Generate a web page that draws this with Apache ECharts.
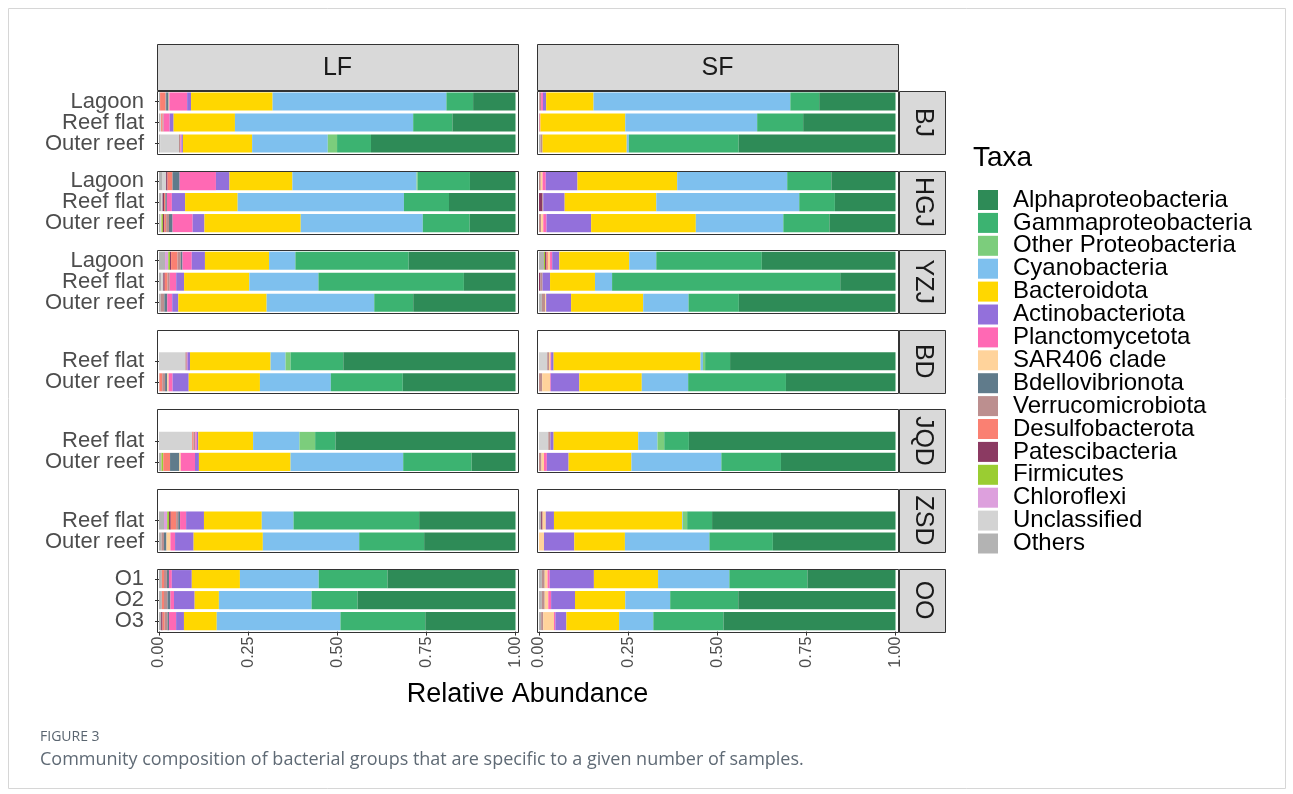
<!DOCTYPE html>
<html>
<head>
<meta charset="utf-8">
<script src="https://cdn.jsdelivr.net/npm/echarts@6/dist/echarts.min.js"></script>
<style>
  html, body { margin: 0; padding: 0; background: #ffffff; }
  #chart { width: 1293px; height: 794px; }
</style>
</head>
<body>
<div id="chart"></div>
<script>
// Taxa in legend order; the stack is drawn in reverse (Others at 0, Alphaproteobacteria at 1)
const taxa = [
  'Alphaproteobacteria', 'Gammaproteobacteria', 'Other Proteobacteria', 'Cyanobacteria',
  'Bacteroidota', 'Actinobacteriota', 'Planctomycetota', 'SAR406 clade',
  'Bdellovibrionota', 'Verrucomicrobiota', 'Desulfobacterota', 'Patescibacteria',
  'Firmicutes', 'Chloroflexi', 'Unclassified', 'Others'
];
const taxaColors = [
  '#2E8B57', '#3CB371', '#7CCD7C', '#7EC0EE',
  '#FFD700', '#9370DB', '#FF69B4', '#FFD39B',
  '#607B8B', '#BC8F8F', '#FA8072', '#8B3A62',
  '#9ACD32', '#DDA0DD', '#D3D3D3', '#B3B3B3'
];
const fractions = ['LF', 'SF'];
const sites = ['BJ', 'HGJ', 'YZJ', 'BD', 'JQD', 'ZSD', 'OO'];

// Row labels per site (blank slot keeps the three-row layout)
const labelsBJ  = ['Lagoon', 'Reef flat', 'Outer reef'];
const labelsHGJ = ['Lagoon', 'Reef flat', 'Outer reef'];
const labelsYZJ = ['Lagoon', 'Reef flat', 'Outer reef'];
const labelsBD  = ['', 'Reef flat', 'Outer reef'];
const labelsJQD = ['', 'Reef flat', 'Outer reef'];
const labelsZSD = ['', 'Reef flat', 'Outer reef'];
const labelsOO  = ['O1', 'O2', 'O3'];

// Relative abundances, one row per sample, columns in the order of `taxa`
const bjLF = [
  [0.119, 0.075, 0, 0.488, 0.229, 0.011, 0.050, 0.002, 0.007, 0.002, 0.015, 0, 0, 0, 0, 0.003],
  [0.177, 0.110, 0, 0.500, 0.172, 0.011, 0.017, 0, 0, 0.003, 0.004, 0, 0, 0, 0.003, 0.003],
  [0.405, 0.095, 0.026, 0.212, 0.194, 0.004, 0.003, 0, 0, 0.004, 0, 0, 0, 0, 0.052, 0.004]
];
const bjSF = [
  [0.214, 0.081, 0, 0.552, 0.133, 0.009, 0.005, 0, 0, 0.005, 0, 0, 0, 0, 0, 0.001],
  [0.259, 0.129, 0, 0.370, 0.238, 0, 0.002, 0, 0, 0.002, 0, 0, 0, 0, 0, 0],
  [0.440, 0.308, 0, 0.006, 0.236, 0, 0, 0, 0, 0.006, 0, 0, 0, 0, 0, 0.004]
];
const hgjLF = [
  [0.128, 0.147, 0.003, 0.349, 0.177, 0.038, 0.102, 0, 0.020, 0, 0.014, 0.004, 0, 0, 0.010, 0.010],
  [0.186, 0.126, 0, 0.465, 0.147, 0.037, 0.014, 0, 0.004, 0, 0.004, 0.004, 0, 0, 0.004, 0.006],
  [0.128, 0.131, 0, 0.341, 0.269, 0.033, 0.056, 0, 0.010, 0.008, 0.005, 0.004, 0.004, 0, 0.003, 0.004]
];
const hgjSF = [
  [0.180, 0.124, 0, 0.309, 0.280, 0.089, 0.009, 0.005, 0, 0.005, 0, 0, 0, 0, 0, 0],
  [0.170, 0.100, 0, 0.401, 0.257, 0.060, 0, 0, 0, 0.003, 0, 0.009, 0, 0, 0, 0],
  [0.185, 0.129, 0, 0.245, 0.293, 0.125, 0.009, 0.006, 0, 0.006, 0, 0, 0, 0, 0, 0]
];
const yzjLF = [
  [0.300, 0.318, 0, 0.074, 0.180, 0.037, 0.026, 0, 0.005, 0.009, 0.018, 0.003, 0.005, 0.009, 0, 0.017],
  [0.144, 0.406, 0, 0.193, 0.182, 0.022, 0.018, 0, 0, 0.006, 0.008, 0.004, 0, 0, 0.006, 0.006],
  [0.286, 0.109, 0, 0.301, 0.247, 0.017, 0.014, 0, 0.008, 0.010, 0, 0, 0, 0, 0, 0.005]
];
const yzjSF = [
  [0.375, 0.296, 0, 0.076, 0.196, 0.020, 0.006, 0.006, 0, 0, 0.004, 0.004, 0.003, 0, 0, 0.014],
  [0.155, 0.640, 0, 0.048, 0.126, 0.021, 0, 0, 0, 0.006, 0, 0.004, 0, 0, 0, 0],
  [0.439, 0.141, 0, 0.127, 0.202, 0.070, 0, 0.003, 0, 0.009, 0, 0, 0, 0, 0, 0.008]
];
const bdLF = [
  null,
  [0.483, 0.148, 0.014, 0.042, 0.226, 0.007, 0.002, 0, 0, 0.004, 0, 0, 0, 0, 0.074, 0],
  [0.315, 0.201, 0, 0.198, 0.199, 0.045, 0.011, 0.004, 0.006, 0.008, 0.008, 0, 0, 0, 0, 0.001]
];
const bdSF = [
  null,
  [0.464, 0.070, 0.006, 0.007, 0.412, 0.007, 0.002, 0.004, 0, 0.005, 0, 0, 0, 0, 0.023, 0],
  [0.307, 0.274, 0, 0.130, 0.175, 0.080, 0.002, 0.022, 0, 0.009, 0, 0, 0, 0, 0, 0]
];
const jqdLF = [
  null,
  [0.505, 0.057, 0.044, 0.130, 0.154, 0.004, 0.004, 0, 0, 0.005, 0.004, 0, 0, 0, 0.093, 0],
  [0.123, 0.192, 0, 0.316, 0.257, 0.011, 0.040, 0.004, 0.026, 0, 0.019, 0, 0.005, 0, 0, 0.007]
];
const jqdSF = [
  null,
  [0.579, 0.069, 0.019, 0.054, 0.237, 0.009, 0, 0, 0, 0.006, 0, 0, 0, 0, 0.026, 0],
  [0.321, 0.167, 0, 0.252, 0.176, 0.061, 0.008, 0.007, 0, 0.007, 0, 0, 0, 0, 0, 0]
];
const zsdLF = [
  null,
  [0.270, 0.352, 0, 0.089, 0.162, 0.050, 0.017, 0, 0.005, 0.006, 0.015, 0.005, 0.005, 0.009, 0, 0.014],
  [0.256, 0.182, 0, 0.270, 0.194, 0.052, 0.013, 0.011, 0.007, 0.007, 0, 0, 0, 0, 0, 0.007]
];
const zsdSF = [
  null,
  [0.515, 0.070, 0.012, 0.002, 0.360, 0.023, 0, 0.009, 0, 0, 0, 0.004, 0, 0, 0, 0.006],
  [0.344, 0.178, 0, 0.237, 0.142, 0.085, 0, 0.014, 0, 0, 0, 0, 0, 0, 0, 0]
];
const ooLF = [
  [0.359, 0.193, 0, 0.221, 0.135, 0.056, 0.008, 0, 0.006, 0.008, 0.006, 0, 0, 0, 0, 0.008],
  [0.443, 0.129, 0, 0.260, 0.068, 0.058, 0.010, 0, 0.008, 0.010, 0.006, 0, 0, 0, 0, 0.008],
  [0.253, 0.238, 0, 0.347, 0.092, 0.022, 0.020, 0, 0.004, 0.008, 0.006, 0.004, 0, 0, 0, 0.006]
];
const ooSF = [
  [0.247, 0.219, 0, 0.200, 0.180, 0.124, 0.006, 0.008, 0, 0.008, 0, 0, 0, 0, 0, 0.008],
  [0.441, 0.191, 0, 0.126, 0.141, 0.067, 0.008, 0.010, 0, 0.008, 0, 0, 0, 0, 0, 0.008],
  [0.483, 0.197, 0, 0.096, 0.148, 0.031, 0.004, 0.030, 0, 0.006, 0, 0, 0, 0, 0, 0.006]
];

const siteLabels = [labelsBJ, labelsHGJ, labelsYZJ, labelsBD, labelsJQD, labelsZSD, labelsOO];
const siteData = [
  [bjLF, bjSF], [hgjLF, hgjSF], [yzjLF, yzjSF], [bdLF, bdSF],
  [jqdLF, jqdSF], [zsdLF, zsdSF], [ooLF, ooSF]
];

// ---- layout ----
const FONT = "'Liberation Sans', Arial, Helvetica, sans-serif";
const CAPTION_FONT = "'Open Sans', 'Noto Sans', sans-serif";
const panelLeft = [157, 537];
const panelW = 361;
const dataPad = 2;            // small horizontal expansion inside each panel
const panelTop0 = 91;
const rowStep = 79.6;
const panelH = 63;
const stripTop = 44, stripH = 46;
const rightStripX = 899, rightStripW = 46;

const chart = echarts.init(document.getElementById('chart'), null, { renderer: 'canvas' });

const grids = [], xAxes = [], yAxes = [], series = [], graphics = [];

sites.forEach((site, r) => {
  const top = panelTop0 + r * rowStep;
  const isBottom = r === sites.length - 1;
  const labels = siteLabels[r];
  fractions.forEach((frac, c) => {
    const g = grids.length;
    grids.push({
      left: panelLeft[c] + dataPad,
      top: top,
      width: panelW - 2 * dataPad - 0.5,
      height: panelH,
      containLabel: false
    });
    xAxes.push({
      gridIndex: g, type: 'value', min: 0, max: 1, interval: 0.25,
      splitLine: { show: false },
      axisLine: { show: false },
      axisTick: { show: isBottom, length: 4, lineStyle: { color: '#333333', width: 1 } },
      axisLabel: {
        show: isBottom, rotate: 90, margin: 5,
        fontFamily: FONT, fontSize: 16, color: '#4d4d4d',
        formatter: v => v.toFixed(2)
      }
    });
    yAxes.push({
      gridIndex: g, type: 'category', inverse: true,
      data: labels,
      offset: dataPad,
      axisLine: { show: false },
      axisTick: {
        show: c === 0, length: 4, alignWithLabel: true,
        interval: (idx) => labels[idx] !== '',
        lineStyle: { color: '#333333', width: 1 }
      },
      axisLabel: {
        show: c === 0, margin: 13, interval: 0,
        fontFamily: FONT, fontSize: 22, color: '#4d4d4d'
      },
      splitLine: { show: false }
    });
    const rows = siteData[r][c];
    // position = fill: each sample's bar spans 0..1
    const totals = rows.map(row => row ? row.reduce((a, b) => a + b, 0) : 0);
    for (let k = taxa.length - 1; k >= 0; k--) {
      series.push({
        type: 'bar',
        name: taxa[k],
        xAxisIndex: g, yAxisIndex: g,
        stack: 'panel' + g,
        barWidth: '86%',
        itemStyle: { color: taxaColors[k], borderWidth: 0 },
        emphasis: { disabled: true },
        data: rows.map((row, i) => row ? row[k] / totals[i] : null)
      });
    }
    // panel frame
    graphics.push({
      type: 'rect', z: 100,
      shape: { x: panelLeft[c] + 0.5, y: Math.round(top) + 0.5, width: panelW, height: panelH },
      style: { fill: null, stroke: '#333333', lineWidth: 1 }
    });
  });
  // right strip with site name
  graphics.push({
    type: 'rect', z: 100,
    shape: { x: rightStripX + 0.5, y: Math.round(top) + 0.5, width: rightStripW, height: panelH },
    style: { fill: '#d9d9d9', stroke: '#333333', lineWidth: 1 }
  });
  graphics.push({
    type: 'text', z: 101,
    x: rightStripX + rightStripW / 2 + 0.5, y: top + panelH / 2,
    rotation: -Math.PI / 2,
    style: {
      text: site, fontFamily: FONT, fontSize: 25, fill: '#1a1a1a',
      align: 'center', verticalAlign: 'middle'
    }
  });
});

// top strips
fractions.forEach((frac, c) => {
  graphics.push({
    type: 'rect', z: 100,
    shape: { x: panelLeft[c] + 0.5, y: stripTop + 0.5, width: panelW, height: stripH },
    style: { fill: '#d9d9d9', stroke: '#333333', lineWidth: 1 }
  });
  graphics.push({
    type: 'text', z: 101,
    x: panelLeft[c] + panelW / 2, y: stripTop + stripH / 2 + 1,
    style: {
      text: frac, fontFamily: FONT, fontSize: 25, fill: '#1a1a1a',
      align: 'center', verticalAlign: 'middle'
    }
  });
});

// axis title
graphics.push({
  type: 'text', z: 101,
  x: (panelLeft[0] + panelLeft[1] + panelW) / 2, y: 695,
  style: {
    text: 'Relative Abundance', fontFamily: FONT, fontSize: 27, fill: '#000000',
    align: 'center', verticalAlign: 'middle'
  }
});

// legend title
graphics.push({
  type: 'text', z: 101, x: 973, y: 158,
  style: {
    text: 'Taxa', fontFamily: FONT, fontSize: 28, fill: '#000000',
    align: 'left', verticalAlign: 'middle'
  }
});

// caption
graphics.push({
  type: 'text', z: 101, x: 40, y: 737,
  style: {
    text: 'FIGURE 3', fontFamily: CAPTION_FONT, fontSize: 14, fill: '#5a6570',
    align: 'left', verticalAlign: 'middle'
  }
});
graphics.push({
  type: 'text', z: 101, x: 40, y: 760,
  style: {
    text: 'Community composition of bacterial groups that are specific to a given number of samples.',
    fontFamily: CAPTION_FONT, fontSize: 18, fill: '#5f6a75',
    align: 'left', verticalAlign: 'middle'
  }
});

// outer frame
graphics.push({
  type: 'rect', z: 0,
  shape: { x: 8.5, y: 8.5, width: 1277, height: 780 },
  style: { fill: null, stroke: '#d6d6d6', lineWidth: 1 }
});

chart.setOption({
  animation: false,
  backgroundColor: '#ffffff',
  grid: grids,
  xAxis: xAxes,
  yAxis: yAxes,
  legend: {
    data: taxa,
    orient: 'vertical',
    left: 978, top: 188,
    itemWidth: 20, itemHeight: 20,
    itemGap: -1.1,
    padding: 0,
    icon: 'rect',
    selectedMode: false,
    itemStyle: { borderWidth: 0 },
    textStyle: { fontFamily: FONT, fontSize: 24, color: '#000000', padding: [0, 0, 0, 10] }
  },
  graphic: { elements: graphics },
  series: series
});
</script>
</body>
</html>
